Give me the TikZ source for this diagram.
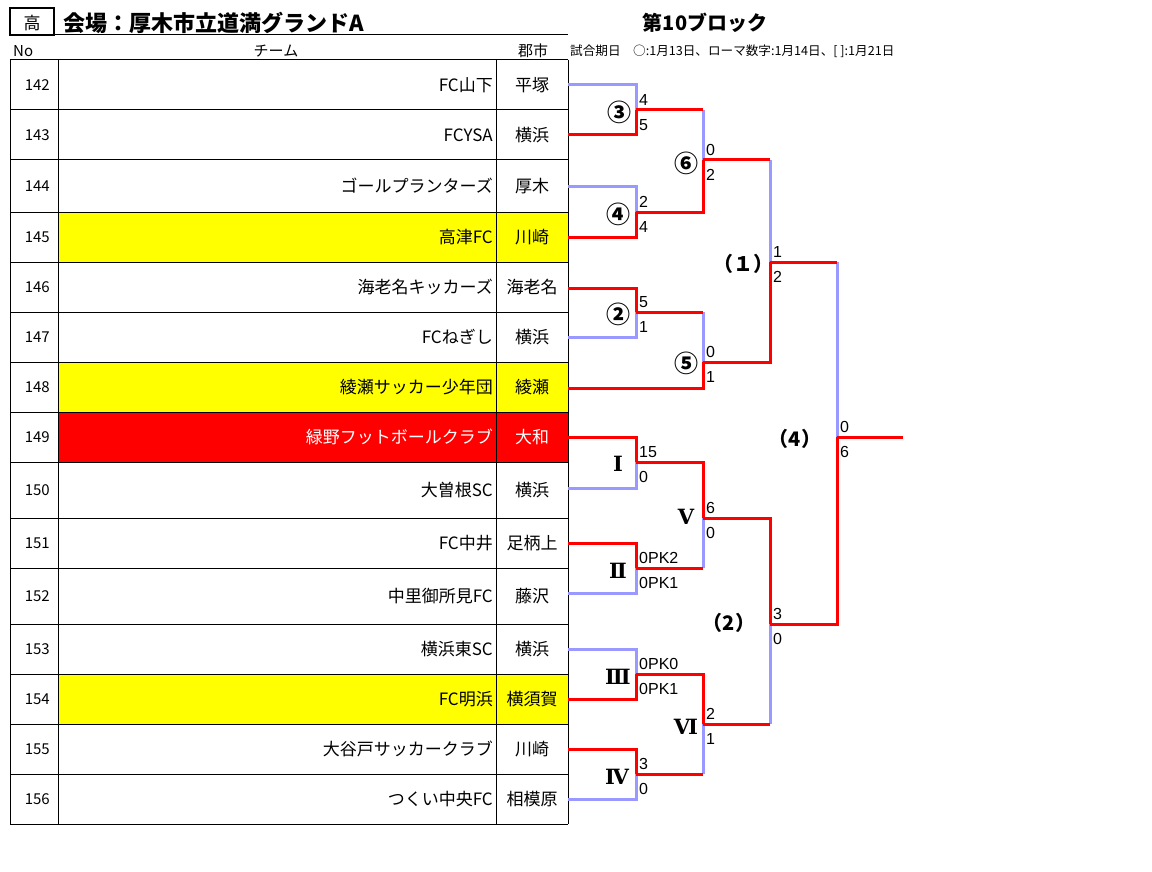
\documentclass[tikz,border=0pt]{standalone}
\usepackage{fontspec}
\setmainfont{Noto Sans CJK JP}
\newfontfamily\scorefont{Liberation Sans}
\newfontfamily\romfont{DejaVu Serif}
\usepackage{tikz}
\usetikzlibrary{positioning}
\definecolor{lav}{RGB}{153,153,255}
\definecolor{hiyellow}{RGB}{255,255,0}
\definecolor{hired}{RGB}{255,0,0}

\begin{document}
\begin{tikzpicture}[
x=1pt,y=-1pt,
WinLine/.style={draw=hired,line width=3pt},
LoseLine/.style={draw=lav,line width=3pt},
TableLine/.style={draw=black,line width=1pt},
NoText/.style={anchor=east,inner sep=0pt,font=\fontsize{15}{18}\selectfont},
TeamText/.style={anchor=east,inner sep=0pt,font=\fontsize{17}{20}\selectfont},
CityText/.style={inner sep=0pt,font=\fontsize{17}{20}\selectfont},
ScoreUp/.style={above right=4pt and 3pt of #1,inner sep=0pt,font=\scorefont\fontsize{16}{18}\selectfont},
ScoreDown/.style={below right=9pt and 3pt of #1,inner sep=0pt,font=\scorefont\fontsize{16}{18}\selectfont},
CircLabel/.style={inner sep=0pt,font=\bfseries\fontsize{24}{26}\selectfont},
RomLabel/.style={inner sep=0pt,font=\romfont\bfseries\fontsize{21}{24}\selectfont},
KakkoLabel/.style={inner sep=0pt,font=\bfseries\fontsize{20}{22}\selectfont}
]
\useasboundingbox[fill=white] (0,0) rectangle (1152,872);

% header
\draw[line width=2pt] (10,8) rectangle (54,35);
\node[CityText] (kou) at (32,23) {高};
\node[anchor=west,inner sep=0pt,font=\bfseries\fontsize{22}{24}\selectfont] (venue) at (63,23) {会場：厚木市立道満グランドA};
\draw[TableLine] (54,35) -- (568,35);
\node[anchor=west,inner sep=0pt,font=\fontsize{15}{18}\selectfont] (hno) at (13,51) {No};
\node[inner sep=0pt,font=\fontsize{15}{18}\selectfont] (hteam) at (276,51) {チーム};
\node[inner sep=0pt,font=\fontsize{15}{18}\selectfont] (hcity) at (533,51) {郡市};
\node[inner sep=0pt,font=\bfseries\fontsize{20}{22}\selectfont] (block) at (705,23) {第10ブロック};
\node[anchor=west,inner sep=0pt,font=\fontsize{12.6}{14}\selectfont] (dates) at (570,51) {試合期日　○:1月13日、ローマ数字:1月14日、[ ]:1月21日};

% table fills
\fill[hiyellow] (58,212) rectangle (568,262);
\fill[hiyellow] (58,362) rectangle (568,412);
\fill[hired] (58,412) rectangle (568,462);
\fill[hiyellow] (58,674) rectangle (568,724);

% table grid
\draw[TableLine] (10,60) -- (568,60) (10,110) -- (568,110) (10,160) -- (568,160)
  (10,212) -- (568,212) (10,262) -- (568,262) (10,312) -- (568,312)
  (10,362) -- (568,362) (10,412) -- (568,412) (10,462) -- (568,462)
  (10,518) -- (568,518) (10,568) -- (568,568) (10,624) -- (568,624)
  (10,674) -- (568,674) (10,724) -- (568,724) (10,774) -- (568,774)
  (10,824) -- (568,824);
\draw[TableLine] (10,60) -- (10,824) (58,60) -- (58,824) (496,60) -- (496,824) (568,60) -- (568,824);

% teams
\node[NoText] (n142) at (50,85) {142};  \node[TeamText] (team142) at (493,85) {FC山下};  \node[CityText] (city142) at (532,85) {平塚};
\node[NoText] (n143) at (50,135) {143}; \node[TeamText] (team143) at (493,135) {FCYSA}; \node[CityText] (city143) at (532,135) {横浜};
\node[NoText] (n144) at (50,186) {144}; \node[TeamText] (team144) at (493,186) {ゴールプランターズ}; \node[CityText] (city144) at (532,186) {厚木};
\node[NoText] (n145) at (50,237) {145}; \node[TeamText] (team145) at (493,237) {高津FC}; \node[CityText] (city145) at (532,237) {川崎};
\node[NoText] (n146) at (50,287) {146}; \node[TeamText] (team146) at (493,287) {海老名キッカーズ}; \node[CityText] (city146) at (532,287) {海老名};
\node[NoText] (n147) at (50,337) {147}; \node[TeamText] (team147) at (493,337) {FCねぎし}; \node[CityText] (city147) at (532,337) {横浜};
\node[NoText] (n148) at (50,387) {148}; \node[TeamText] (team148) at (493,387) {綾瀬サッカー少年団}; \node[CityText] (city148) at (532,387) {綾瀬};
\node[NoText] (n149) at (50,437) {149}; \node[TeamText,text=white] (team149) at (493,437) {緑野フットボールクラブ}; \node[CityText,text=white] (city149) at (532,437) {大和};
\node[NoText] (n150) at (50,490) {150}; \node[TeamText] (team150) at (493,490) {大曽根SC}; \node[CityText] (city150) at (532,490) {横浜};
\node[NoText] (n151) at (50,543) {151}; \node[TeamText] (team151) at (493,543) {FC中井}; \node[CityText] (city151) at (532,543) {足柄上};
\node[NoText] (n152) at (50,596) {152}; \node[TeamText] (team152) at (493,596) {中里御所見FC}; \node[CityText] (city152) at (532,596) {藤沢};
\node[NoText] (n153) at (50,649) {153}; \node[TeamText] (team153) at (493,649) {横浜東SC}; \node[CityText] (city153) at (532,649) {横浜};
\node[NoText] (n154) at (50,699) {154}; \node[TeamText] (team154) at (493,699) {FC明浜}; \node[CityText] (city154) at (532,699) {横須賀};
\node[NoText] (n155) at (50,749) {155}; \node[TeamText] (team155) at (493,749) {大谷戸サッカークラブ}; \node[CityText] (city155) at (532,749) {川崎};
\node[NoText] (n156) at (50,799) {156}; \node[TeamText] (team156) at (493,799) {つくい中央FC}; \node[CityText] (city156) at (532,799) {相模原};

% bracket entries
\coordinate (t142) at (568,85);  \coordinate (t143) at (568,135);
\coordinate (t144) at (568,187); \coordinate (t145) at (568,237);
\coordinate (t146) at (568,288); \coordinate (t147) at (568,337);
\coordinate (t148) at (568,388); \coordinate (t149) at (568,437);
\coordinate (t150) at (568,488); \coordinate (t151) at (568,543);
\coordinate (t152) at (568,593); \coordinate (t153) at (568,649);
\coordinate (t154) at (568,699); \coordinate (t155) at (568,749);
\coordinate (t156) at (568,799);

% match points
\coordinate (m3) at (636,110); \coordinate (m4) at (636,212);
\coordinate (m2) at (636,312); \coordinate (m6) at (703,160);
\coordinate (m5) at (703,362); \coordinate (k1) at (770,262);
\coordinate (r1) at (636,462); \coordinate (r2) at (636,568);
\coordinate (r3) at (636,674); \coordinate (r4) at (636,774);
\coordinate (r5) at (703,518); \coordinate (r6) at (703,724);
\coordinate (k2) at (770,624); \coordinate (k4) at (837,437);
\coordinate (champ) at (903,437);

% losing paths
\draw[LoseLine] (t142) -| (m3);
\draw[LoseLine] (t144) -| (m4);
\draw[LoseLine] (t147) -| (m2);
\draw[LoseLine] (t150) -| (r1);
\draw[LoseLine] (t152) -| (r2);
\draw[LoseLine] (t153) -| (r3);
\draw[LoseLine] (t156) -| (r4);
\draw[LoseLine] (m3 -| m6) -- (m6);
\draw[LoseLine] (m2 -| m5) -- (m5);
\draw[LoseLine] (m6 -| k1) -- (k1);
\draw[LoseLine] (k1 -| k4) -- (k4);
\draw[LoseLine] (r2 -| r5) -- (r5);
\draw[LoseLine] (r4 -| r6) -- (r6);
\draw[LoseLine] (r6 -| k2) -- (k2);

% winning paths
\draw[WinLine] (t143) -| (m3);
\draw[WinLine] (t145) -| (m4);
\draw[WinLine] (t146) -| (m2);
\draw[WinLine] (t149) -| (r1);
\draw[WinLine] (t151) -| (r2);
\draw[WinLine] (t154) -| (r3);
\draw[WinLine] (t155) -| (r4);
\draw[WinLine] (m3) -- (m3 -| m6);
\draw[WinLine] (m4) -| (m6);
\draw[WinLine] (m2) -- (m2 -| m5);
\draw[WinLine] (t148) -| (m5);
\draw[WinLine] (m6) -- (m6 -| k1);
\draw[WinLine] (m5) -| (k1);
\draw[WinLine] (k1) -- (k1 -| k4);
\draw[WinLine] (r1) -| (r5);
\draw[WinLine] (r2) -- (r2 -| r5);
\draw[WinLine] (r3) -| (r6);
\draw[WinLine] (r4) -- (r4 -| r6);
\draw[WinLine] (r5) -| (k2);
\draw[WinLine] (r6) -- (r6 -| k2);
\draw[WinLine] (k2) -| (k4);
\draw[WinLine] (k4) -- (champ);

% scores
\node[ScoreUp=m3] (s3a) {4};     \node[ScoreDown=m3] (s3b) {5};
\node[ScoreUp=m4] (s4a) {2};     \node[ScoreDown=m4] (s4b) {4};
\node[ScoreUp=m2] (s2a) {5};     \node[ScoreDown=m2] (s2b) {1};
\node[ScoreUp=m6] (s6a) {0};     \node[ScoreDown=m6] (s6b) {2};
\node[ScoreUp=m5] (s5a) {0};     \node[ScoreDown=m5] (s5b) {1};
\node[ScoreUp=k1] (sk1a) {1};    \node[ScoreDown=k1] (sk1b) {2};
\node[ScoreUp=r1] (sr1a) {15};   \node[ScoreDown=r1] (sr1b) {0};
\node[ScoreUp=r2] (sr2a) {0PK2}; \node[ScoreDown=r2] (sr2b) {0PK1};
\node[ScoreUp=r3] (sr3a) {0PK0}; \node[ScoreDown=r3] (sr3b) {0PK1};
\node[ScoreUp=r4] (sr4a) {3};    \node[ScoreDown=r4] (sr4b) {0};
\node[ScoreUp=r5] (sr5a) {6};    \node[ScoreDown=r5] (sr5b) {0};
\node[ScoreUp=r6] (sr6a) {2};    \node[ScoreDown=r6] (sr6b) {1};
\node[ScoreUp=k2] (sk2a) {3};    \node[ScoreDown=k2] (sk2b) {0};
\node[ScoreUp=k4] (sk4a) {0};    \node[ScoreDown=k4] (sk4b) {6};

% match labels
\node[CircLabel] (l3) at (619,112) {③};
\node[CircLabel] (l4) at (618,214) {④};
\node[CircLabel] (l2) at (618,314) {②};
\node[CircLabel] (l6) at (686,163) {⑥};
\node[CircLabel] (l5) at (686,363) {⑤};
\node[KakkoLabel] (lk1) at (743,264) {（１）};
\node[KakkoLabel] (lk4) at (795,439) {（4）};
\node[KakkoLabel] (lk2) at (729,623) {（2）};
\node[RomLabel] (lr1) at (618,464) {Ⅰ};
\node[RomLabel] (lr2) at (618,571) {Ⅱ};
\node[RomLabel] (lr3) at (618,677) {Ⅲ};
\node[RomLabel] (lr4) at (617,777) {Ⅳ};
\node[RomLabel] (lr5) at (686,517) {Ⅴ};
\node[RomLabel] (lr6) at (686,727) {Ⅵ};

\end{tikzpicture}
\end{document}
